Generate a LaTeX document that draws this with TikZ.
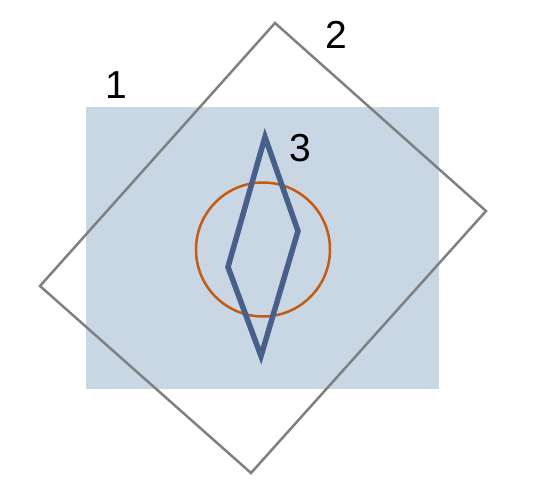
\documentclass[tikz,border=0pt]{standalone}
\usepackage{fontspec}
\setmainfont{Liberation Sans}
\usepackage{tikz}
\definecolor{areacol}{RGB}{201,215,228}
\definecolor{framecol}{RGB}{128,128,128}
\definecolor{ringcol}{RGB}{197,90,17}
\definecolor{kitecol}{RGB}{70,96,138}

\begin{document}
\begin{tikzpicture}[x=1pt,y=-1pt,
  numlabel/.style={font=\fontsize{39}{39}\selectfont,inner sep=0pt}]
\useasboundingbox (0,0) rectangle (543,495);
% shaded area 1
\fill[areacol] (86,107) rectangle (439,389);
% tilted square 2
\draw[framecol,line width=2.5pt] (275,23) -- (486,211) -- (251,473) -- (40,286) -- cycle;
% circle and kite 3
\draw[ringcol,line width=2.5pt] (263,249.5) circle (67);
\draw[kitecol,line width=5.5pt,miter limit=20] (265,137) -- (298,231) -- (261,356) -- (228,267) -- cycle;
\node[numlabel] (one) at (116,85) {1};
\node[numlabel] (two) at (336,35) {2};
\node[numlabel] (three) at (300,148) {3};
\end{tikzpicture}
\end{document}
